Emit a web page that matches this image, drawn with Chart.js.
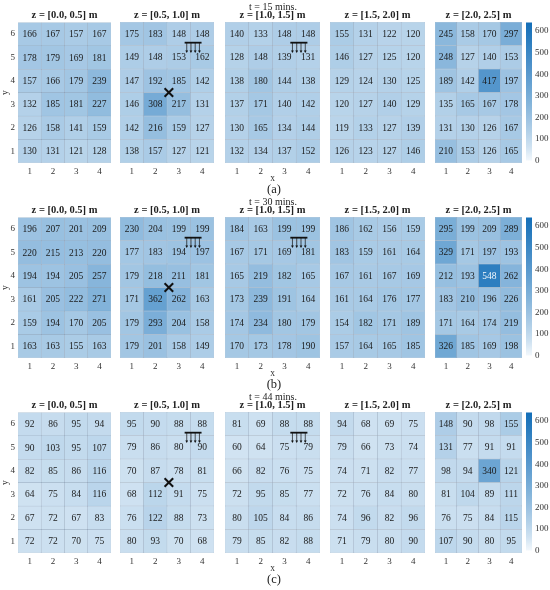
<!DOCTYPE html>
<html>
<head>
<meta charset="utf-8">
<script src="https://cdn.jsdelivr.net/npm/chart.js@4.4.0/dist/chart.umd.min.js"></script>
<style>
  body { margin:0; background:#fff; width:550px; height:590px; position:relative; overflow:hidden;
         font-family:"Liberation Serif","Times New Roman",serif; }
  canvas { position:absolute; }
  .lbl { position:absolute; transform:translate(-50%,-50%); white-space:nowrap; color:#222; line-height:1; }
  .ztitle { font-weight:bold; font-size:10.5px; }
  .ttl { font-size:10px; }
  .tag { font-size:12.5px; }
</style>
</head>
<body>
<script>
/* ---------- data ---------- */
const X_LABELS = ['1', '2', '3', '4'];
const Y_LABELS = ['1', '2', '3', '4', '5', '6'];
const Z_TITLES = ['z = [0.0, 0.5] m', 'z = [0.5, 1.0] m', 'z = [1.0, 1.5] m', 'z = [1.5, 2.0] m', 'z = [2.0, 2.5] m'];
const TIMES    = ['t = 15 mins.', 't = 30 mins.', 't = 44 mins.'];
const ROW_TAGS = ['(a)', '(b)', '(c)'];
const CBAR_TICKS = [0, 100, 200, 300, 400, 500, 600];
const CBAR_MAX = 640;

// each grid: rows from y = 6 (top) down to y = 1, columns x = 1..4
const t15_z1 = [[166,167,157,167],[178,179,169,181],[157,166,179,239],[132,185,181,227],[126,158,141,159],[130,131,121,128]];
const t15_z2 = [[175,183,148,148],[149,148,153,162],[147,192,185,142],[146,308,217,131],[142,216,159,127],[138,157,127,121]];
const t15_z3 = [[140,133,148,148],[128,148,139,131],[138,180,144,138],[137,171,140,142],[130,165,134,144],[132,134,137,152]];
const t15_z4 = [[155,131,122,120],[146,127,125,120],[129,124,130,125],[120,127,140,129],[119,133,127,139],[126,123,127,146]];
const t15_z5 = [[245,158,170,297],[248,127,140,153],[189,142,417,197],[135,165,167,178],[131,130,126,167],[210,153,126,165]];

const t30_z1 = [[196,207,201,209],[220,215,213,220],[194,194,205,257],[161,205,222,271],[159,194,170,205],[163,163,155,163]];
const t30_z2 = [[230,204,199,199],[177,183,194,197],[179,218,211,181],[171,362,262,163],[179,293,204,158],[179,201,158,149]];
const t30_z3 = [[184,163,199,199],[167,171,169,181],[165,219,182,165],[173,239,191,164],[174,234,180,179],[170,173,178,190]];
const t30_z4 = [[186,162,156,159],[183,159,161,164],[167,161,167,169],[161,164,176,177],[154,182,171,189],[157,164,165,185]];
const t30_z5 = [[295,199,209,289],[329,171,197,193],[212,193,548,262],[183,210,196,226],[171,164,174,219],[326,185,169,198]];

const t44_z1 = [[92,86,95,94],[90,103,95,107],[82,85,86,116],[64,75,84,116],[67,72,67,83],[72,72,70,75]];
const t44_z2 = [[95,90,88,88],[79,86,80,90],[70,87,78,81],[68,112,91,75],[76,122,88,73],[80,93,70,68]];
const t44_z3 = [[81,69,88,88],[60,64,75,79],[66,82,76,75],[72,95,85,77],[80,105,84,86],[79,85,82,88]];
const t44_z4 = [[94,68,69,75],[79,66,73,74],[74,71,82,77],[72,76,84,80],[74,96,82,96],[71,79,80,90]];
const t44_z5 = [[148,90,98,155],[131,77,91,91],[98,94,340,121],[81,104,89,111],[76,75,84,115],[107,90,80,95]];

const GRIDS = [
  [t15_z1, t15_z2, t15_z3, t15_z4, t15_z5],
  [t30_z1, t30_z2, t30_z3, t30_z4, t30_z5],
  [t44_z1, t44_z2, t44_z3, t44_z4, t44_z5],
];

// annotation marks, in axis units (x 1..4, y 1..6)
const HAMMER_X = [3.25, 3.97];
const HAMMER_Y = [5.62, 5.18];
const CROSS_XY = [2.58, 3.5];

/* ---------- layout ---------- */
const PANEL_LEFT = [18, 120, 225, 330, 435];
const PANEL_W    = [93, 94, 95, 95, 87];
const ROW_TOP    = [22, 217, 412];
const PANEL_H    = 141;
const Y_AXIS_W   = 18;
const X_AXIS_H   = 14;
const FONT = '"Liberation Serif", "Times New Roman", serif';

function cellColor(v) {
  const t = Math.pow(Math.min(v / CBAR_MAX, 1), 0.8);
  return `rgb(${Math.round(243 - t * 224)},${Math.round(248 - t * 138)},${Math.round(252 - t * 68)})`;
}

/* ---------- plugins ---------- */
const cellText = {
  id: 'cellText',
  afterDatasetsDraw(chart) {
    const { ctx } = chart;
    ctx.save();
    ctx.font = `9.5px ${FONT}`;
    ctx.textAlign = 'center';
    ctx.textBaseline = 'middle';
    chart.data.datasets.forEach((ds, i) => {
      if (!ds.values) return;
      chart.getDatasetMeta(i).data.forEach((bar, j) => {
        const v = ds.values[j];
        ctx.fillStyle = v > 480 ? '#f4f8fc' : '#1a1a1a';
        ctx.fillText(String(v), bar.x, (bar.y + bar.base) / 2 + 0.5);
      });
    });
    ctx.restore();
  }
};

const markers = {
  id: 'markers',
  afterDatasetsDraw(chart, args, o) {
    const { ctx } = chart;
    const xs = chart.scales.x, ys = chart.scales.y;
    const px = v => xs.getPixelForValue(v - 1);
    const py = v => ys.getPixelForValue(v - 0.5);
    ctx.save();
    ctx.strokeStyle = '#111';
    ctx.fillStyle = '#111';
    if (o.hammer) {
      const x0 = px(HAMMER_X[0]), x1 = px(HAMMER_X[1]);
      const yb = py(HAMMER_Y[0]), yt = py(HAMMER_Y[1]);
      ctx.lineWidth = 1.8;
      ctx.beginPath(); ctx.moveTo(x0, yb); ctx.lineTo(x1, yb); ctx.stroke();
      ctx.lineWidth = 0.7;
      for (let i = 0; i < 4; i++) {
        const xi = x0 + (x1 - x0) * (i + 0.5) / 4;
        ctx.beginPath(); ctx.moveTo(xi, yb); ctx.lineTo(xi, yt - 2); ctx.stroke();
        ctx.beginPath(); ctx.moveTo(xi - 1.4, yt - 2.5); ctx.lineTo(xi + 1.4, yt - 2.5); ctx.lineTo(xi, yt); ctx.closePath(); ctx.fill();
      }
    }
    if (o.cross) {
      const cx = px(CROSS_XY[0]), cy = py(CROSS_XY[1]), r = 4.3;
      ctx.lineWidth = 2;
      ctx.beginPath();
      ctx.moveTo(cx - r, cy - r); ctx.lineTo(cx + r, cy + r);
      ctx.moveTo(cx + r, cy - r); ctx.lineTo(cx - r, cy + r);
      ctx.stroke();
    }
    ctx.restore();
  }
};

/* ---------- build ---------- */
function addLabel(text, x, y, cls) {
  const d = document.createElement('div');
  d.className = 'lbl ' + cls;
  d.textContent = text;
  d.style.left = x + 'px';
  d.style.top = y + 'px';
  document.body.appendChild(d);
}

function makePanel(grid, r, p) {
  const first = p === 0, mid = p === 2;
  const padL = first ? Y_AXIS_W : 4;
  const xh = mid ? 21 : X_AXIS_H;
  const cv = document.createElement('canvas');
  const w = PANEL_W[p] + padL + 4, h = PANEL_H + 8 + xh;
  cv.style.left = (PANEL_LEFT[p] - padL) + 'px';
  cv.style.top = (ROW_TOP[r] - 8) + 'px';
  cv.style.width = w + 'px'; cv.style.height = h + 'px';
  cv.width = w; cv.height = h;
  document.body.appendChild(cv);

  const datasets = Y_LABELS.map((yl, k) => {
    const row = grid[grid.length - 1 - k];
    return {
      label: 'y = ' + yl,
      data: row.map(() => 1),
      values: row,
      backgroundColor: row.map(cellColor),
      borderColor: 'rgba(70,100,135,0.38)',
      borderWidth: 0.5,
      borderSkipped: false,
      barPercentage: 1,
      categoryPercentage: 1,
      stack: 's',
    };
  });

  new Chart(cv, {
    type: 'bar',
    data: { labels: X_LABELS, datasets },
    options: {
      responsive: false,
      animation: false,
      layout: { padding: { top: 8, right: 4, bottom: 0, left: first ? 0 : 4 } },
      plugins: {
        legend: { display: false },
        tooltip: { enabled: false },
        markers: { hammer: p === 1 || p === 2, cross: p === 1 },
      },
      scales: {
        x: {
          stacked: true,
          offset: true,
          grid: { display: false, drawTicks: false },
          border: { display: false },
          ticks: { font: { family: FONT, size: 9 }, color: '#333', padding: 3, maxRotation: 0, minRotation: 0, autoSkip: false },
          title: { display: mid, text: 'x', font: { family: FONT, size: 9.5 }, color: '#333', padding: 0 },
          afterFit(s) { s.height = xh; },
        },
        y: {
          display: first,
          stacked: true,
          min: 0, max: 6,
          grid: { display: false, drawTicks: false },
          border: { display: false },
          afterBuildTicks(s) { s.ticks = Y_LABELS.map((l, i) => ({ value: i + 0.5 })); },
          ticks: {
            font: { family: FONT, size: 9 }, color: '#333', padding: 3,
            callback: v => Y_LABELS[Math.round(v - 0.5)],
          },
          title: { display: true, text: 'y', font: { family: FONT, size: 9.5 }, color: '#333', padding: 0 },
          afterFit(s) { s.width = first ? Y_AXIS_W : 0; },
        },
      },
    },
    plugins: [cellText, markers],
  });
}

function makeColorbar(r) {
  const cv = document.createElement('canvas');
  const w = 30, h = PANEL_H + 8 + 6;
  cv.style.left = '526px';
  cv.style.top = (ROW_TOP[r] - 8) + 'px';
  cv.style.width = w + 'px'; cv.style.height = h + 'px';
  cv.width = w; cv.height = h;
  document.body.appendChild(cv);

  new Chart(cv, {
    type: 'bar',
    data: {
      labels: ['c'],
      datasets: [{
        data: [[0, CBAR_MAX]],
        backgroundColor(c) {
          const a = c.chart.chartArea;
          if (!a) return cellColor(CBAR_MAX / 2);
          const g = c.chart.ctx.createLinearGradient(0, a.bottom, 0, a.top);
          for (let i = 0; i <= 10; i++) g.addColorStop(i / 10, cellColor(CBAR_MAX * i / 10));
          return g;
        },
        barPercentage: 1,
        categoryPercentage: 1,
      }]
    },
    options: {
      responsive: false,
      animation: false,
      layout: { padding: { top: 8, right: 0, bottom: 6, left: 0 } },
      plugins: { legend: { display: false }, tooltip: { enabled: false } },
      scales: {
        x: { display: false },
        y: {
          position: 'right',
          min: 0, max: CBAR_MAX,
          grid: { display: false, drawTicks: false },
          border: { display: false },
          afterBuildTicks(s) { s.ticks = CBAR_TICKS.map(v => ({ value: v })); },
          ticks: { font: { family: FONT, size: 9 }, color: '#333', padding: 3 },
          afterFit(s) { s.width = 24; },
        },
      },
    },
  });
}

GRIDS.forEach((row, r) => {
  row.forEach((grid, p) => {
    makePanel(grid, r, p);
    addLabel(Z_TITLES[p], PANEL_LEFT[p] + PANEL_W[p] / 2, ROW_TOP[r] - 7, 'ztitle');
  });
  makeColorbar(r);
  addLabel(TIMES[r], 273, ROW_TOP[r] - 15.5, 'ttl');
  addLabel(ROW_TAGS[r], 274, ROW_TOP[r] + 167, 'tag');
});
</script>
</body>
</html>
